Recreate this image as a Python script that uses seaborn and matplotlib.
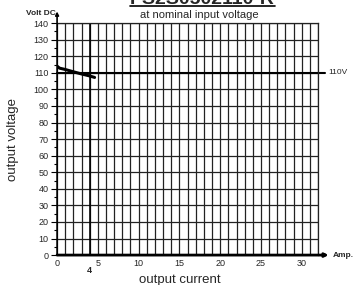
import numpy as np
import pandas as pd
import seaborn as sns
import matplotlib.pyplot as plt
from matplotlib.ticker import MultipleLocator

# curve
current = [0, 0.3, 1, 2, 3, 4, 4.6]
voltage = [114, 112.8, 112, 110.6, 109.3, 108.1, 107.2]
x_ticks = [0, 5, 10, 15, 20, 25, 30]
y_ticks = list(range(0, 150, 10))
nominal = 110
rated_current = 4

df = pd.DataFrame({"current": current, "voltage": voltage})

sns.set_style("white")
plt.rcParams['font.family'] = ['Liberation Sans', 'DejaVu Sans']

fig = plt.figure(figsize=(3.59, 2.85), dpi=100)
ax = fig.add_axes([0.159, 0.105, 0.727, 0.814])

ax.set_xlim(0, 32)
ax.set_ylim(0, 140)

# grid: 1 A vertically, 10 V horizontally
ax.xaxis.set_minor_locator(MultipleLocator(1))
ax.set_xticks(x_ticks)
ax.set_yticks(y_ticks)
ax.yaxis.set_minor_locator(MultipleLocator(5))
ax.grid(True, which="both", axis="x", color="#222222", lw=0.9)
ax.grid(True, which="major", axis="y", color="#222222", lw=0.9)
ax.axvline(rated_current, color="black", lw=1.15)

for s in ["top", "right"]:
    ax.spines[s].set_color("#222222")
    ax.spines[s].set_linewidth(0.9)
ax.spines["left"].set_visible(False)
ax.spines["bottom"].set_visible(False)

ax.tick_params(axis="both", labelsize=6.5, pad=2)
ax.tick_params(axis="y", which="major", length=4, width=0.8, color="black", left=True)
ax.tick_params(axis="y", which="minor", length=2, width=0.8, color="black", left=True)
ax.tick_params(axis="x", which="both", length=0, pad=3)

# axes drawn as arrows past the grid
ax.annotate("", xy=(0, 147), xytext=(0, 0), xycoords="data",
            arrowprops=dict(arrowstyle="-|>", lw=1.2, color="black",
                            mutation_scale=5, shrinkA=0, shrinkB=0),
            annotation_clip=False)
ax.annotate("", xy=(33.3, 0), xytext=(0, 0), xycoords="data",
            arrowprops=dict(arrowstyle="-|>", lw=2.0, color="black",
                            mutation_scale=5, shrinkA=0, shrinkB=0),
            annotation_clip=False)
ax.plot([0, 32.8], [nominal, nominal], color="black", lw=1.5, clip_on=False)

sns.lineplot(data=df, x="current", y="voltage", ax=ax, color="black", lw=2.2)

ax.set_xlabel("output current", fontsize=9.5)
ax.set_ylabel("output voltage", fontsize=9.5)
ax.xaxis.set_label_coords((180 - 57) / 261, -0.08)
ax.yaxis.set_label_coords(-0.145, 0.5)

ax.text(33.2, nominal, "110V", fontsize=6, va="center", ha="left")
ax.text(33.8, 0, "Amp.", fontsize=6, fontweight="bold", va="center", ha="left")
ax.text(rated_current, -6.5, "4", fontsize=6.5, fontweight="bold", va="top", ha="center")
ax.text(-0.2, 145.5, "Volt DC", fontsize=6, fontweight="bold", va="center", ha="right")
ax.text(0.555, 0.947, "at nominal input voltage", transform=fig.transFigure,
        fontsize=8, va="center", ha="center")
fig.text(0.563, 0.986, "PS2S0502110-R", fontsize=14, fontweight="bold",
         va="baseline", ha="center")
fig.add_artist(plt.Line2D([0.362, 0.766], [0.979, 0.979], color="black", lw=1.2,
                          transform=fig.transFigure))

fig.savefig("out.png", dpi=100)
